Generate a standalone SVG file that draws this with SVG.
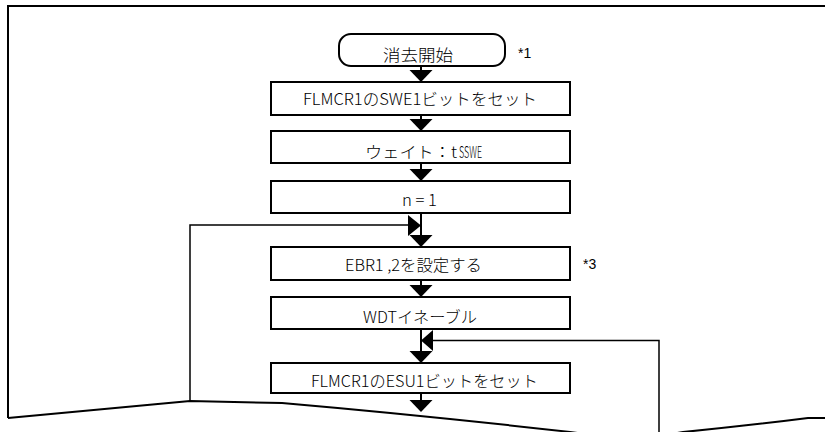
<svg xmlns="http://www.w3.org/2000/svg" width="825" height="432" viewBox="0 0 825 432">
<style>
.box{fill:#fff;stroke:#000;stroke-width:2}
.ln{fill:none;stroke:#000;stroke-width:2}
.thin{fill:none;stroke:#000;stroke-width:1.5}
.ah{fill:#000;stroke:none}
.t{font-family:"Noto Sans CJK JP","Noto Sans",sans-serif;font-size:16px;font-weight:300;fill:#000}
.n{font-family:"Liberation Sans",Arial,sans-serif;font-size:14px;fill:#000}
</style>
<rect width="825" height="432" fill="#fff"/>
<g id="frame">
<path class="ln" d="M8,418 L8,6 L825,6"/>
<path class="ln" d="M8,418 L190,401 L282,403 Q420,415 570,432 L600,436 L660,436 L683,432 Q745,426 808,418 L825,418"/>
</g>
<g id="connectors">
<line class="ln" x1="421" y1="66" x2="421" y2="72"/>
<polygon class="ah" points="409.5,70 432.5,70 421,82"/>
<line class="ln" x1="421" y1="115" x2="421" y2="121"/>
<polygon class="ah" points="409.5,119 432.5,119 421,131"/>
<line class="ln" x1="421" y1="163" x2="421" y2="170"/>
<polygon class="ah" points="409.5,169 432.5,169 421,181"/>
<line class="ln" x1="421" y1="213" x2="421" y2="237"/>
<polyline class="thin" points="190,401 190,225 410,225"/>
<polygon class="ah" points="408,215 408,236 421,225.5"/>
<polygon class="ah" points="409.5,235 432.5,235 421,247"/>
<line class="ln" x1="421" y1="280" x2="421" y2="287"/>
<polygon class="ah" points="409.5,285 432.5,285 421,297"/>
<line class="ln" x1="421" y1="329" x2="421" y2="353"/>
<polyline class="thin" points="659,432 659,340.5 431,340.5"/>
<polygon class="ah" points="433,330 433,351 421,340.5"/>
<polygon class="ah" points="409.5,351 432.5,351 421,363"/>
<line class="ln" x1="421" y1="393" x2="421" y2="402"/>
<polygon class="ah" points="409.5,400 432.5,400 421,412"/>
</g>
<g id="start">
<rect class="box" x="339" y="34" width="166" height="32" rx="12"/>
<text class="t" x="383" y="61" font-size="17" textLength="70" lengthAdjust="spacingAndGlyphs">消去開始</text>
<text class="n" x="518" y="58">*1</text>
</g>
<g id="swe1">
<rect class="box" x="271" y="82" width="299" height="33"/>
<text class="t" x="303" y="105" textLength="234" lengthAdjust="spacingAndGlyphs">FLMCR1のSWE1ビットをセット</text>
</g>
<g id="wait">
<rect class="box" x="271" y="131" width="299" height="32"/>
<text class="t" x="365" y="158" textLength="92" lengthAdjust="spacingAndGlyphs">ウェイト：t</text>
<text class="t" x="459" y="158" font-size="9" textLength="23" lengthAdjust="spacingAndGlyphs">SSWE</text>
</g>
<g id="n1">
<rect class="box" x="271" y="181" width="299" height="32"/>
<text class="t" x="402" y="206" textLength="35" lengthAdjust="spacingAndGlyphs">n = 1</text>
</g>
<g id="ebr">
<rect class="box" x="271" y="247" width="299" height="33"/>
<text class="t" x="345" y="271" textLength="137" lengthAdjust="spacingAndGlyphs">EBR1 ,2を設定する</text>
<text class="n" x="583" y="269">*3</text>
</g>
<g id="wdt">
<rect class="box" x="271" y="297" width="299" height="32"/>
<text class="t" x="363" y="323" textLength="114" lengthAdjust="spacingAndGlyphs">WDTイネーブル</text>
</g>
<g id="esu1">
<rect class="box" x="271" y="363" width="299" height="30"/>
<text class="t" x="311" y="387" textLength="227" lengthAdjust="spacingAndGlyphs">FLMCR1のESU1ビットをセット</text>
</g>
</svg>
